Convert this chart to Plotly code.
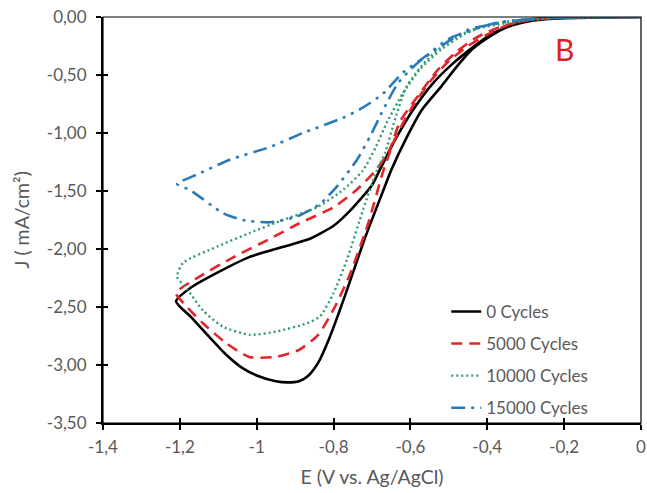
import plotly.graph_objects as go

# Cyclic voltammograms: forward (cathodic) branch from 0 V to -1.21 V,
# then the return branch back to 0 V.
e_0 = [0, -0.10, -0.20, -0.26, -0.31, -0.35, -0.39, -0.44, -0.48, -0.52, -0.57, -0.61,
       -0.65, -0.67, -0.69, -0.72, -0.77, -0.81, -0.84, -0.865, -0.89, -0.92, -0.95, -1.00,
       -1.04, -1.08, -1.12, -1.17, -1.21,
       -1.17, -1.10, -1.02, -0.93, -0.86, -0.80, -0.76, -0.73, -0.70, -0.68, -0.64, -0.593,
       -0.541, -0.489, -0.437, -0.385, -0.333, -0.28, -0.20, 0]
j_0 = [0, 0, -0.005, -0.01, -0.04, -0.09, -0.16, -0.28, -0.43, -0.60, -0.80, -1.04,
       -1.32, -1.49, -1.66, -1.92, -2.40, -2.76, -2.98, -3.09, -3.14, -3.15, -3.14, -3.09,
       -3.02, -2.91, -2.77, -2.59, -2.45,
       -2.33, -2.20, -2.07, -1.98, -1.91, -1.80, -1.68, -1.57, -1.45, -1.32, -1.06, -0.80,
       -0.57, -0.40, -0.26, -0.14, -0.07, -0.03, -0.01, 0]

e_5000 = [0, -0.20, -0.28, -0.34, -0.40, -0.45, -0.50, -0.55, -0.60, -0.64, -0.67, -0.71,
          -0.76, -0.80, -0.84, -0.89, -0.95, -1.02, -1.08, -1.14, -1.19, -1.21,
          -1.15, -1.06, -0.97, -0.89, -0.80, -0.74, -0.69, -0.655, -0.627, -0.58, -0.53,
          -0.48, -0.43, -0.37, -0.30, -0.20, 0]
j_5000 = [0, -0.005, -0.02, -0.06, -0.15, -0.25, -0.38, -0.56, -0.80, -1.05, -1.32, -1.78,
          -2.24, -2.52, -2.74, -2.87, -2.93, -2.93, -2.81, -2.64, -2.47, -2.38,
          -2.24, -2.07, -1.92, -1.78, -1.64, -1.49, -1.32, -1.15, -0.90, -0.68, -0.46,
          -0.30, -0.18, -0.09, -0.03, -0.005, 0]

e_10000 = [0, -0.20, -0.30, -0.38, -0.44, -0.50, -0.56, -0.61, -0.64, -0.666, -0.687, -0.723,
           -0.765, -0.80, -0.835, -0.869, -0.947, -1.017, -1.088, -1.14, -1.18, -1.207,
           -1.192, -1.103, -1.017, -0.932, -0.843, -0.775, -0.723, -0.69, -0.66, -0.62,
           -0.575, -0.52, -0.46, -0.40, -0.33, -0.25, 0]
j_10000 = [0, -0.005, -0.03, -0.07, -0.11, -0.21, -0.38, -0.60, -0.88, -1.17, -1.32, -1.66,
           -2.09, -2.38, -2.58, -2.64, -2.71, -2.74, -2.67, -2.53, -2.35, -2.24,
           -2.12, -1.98, -1.86, -1.75, -1.64, -1.49, -1.32, -1.12, -0.90, -0.66,
           -0.45, -0.28, -0.15, -0.07, -0.03, -0.01, 0]

e_15000 = [0, -0.20, -0.30, -0.38, -0.45, -0.52, -0.583, -0.632, -0.671, -0.705, -0.739,
           -0.791, -0.835, -0.895, -0.965, -1.036, -1.088, -1.174, -1.207,
           -1.15, -1.07, -0.965, -0.88, -0.776, -0.723, -0.671, -0.62, -0.557, -0.515,
           -0.489, -0.419, -0.375, -0.333, -0.20, 0]
j_15000 = [0, -0.005, -0.02, -0.06, -0.11, -0.25, -0.40, -0.57, -0.80, -1.03, -1.23,
           -1.46, -1.61, -1.72, -1.77, -1.75, -1.69, -1.49, -1.44,
           -1.35, -1.23, -1.12, -1.00, -0.87, -0.78, -0.66, -0.48, -0.33, -0.22,
           -0.17, -0.09, -0.05, -0.03, -0.005, 0]

series_names = ["0 Cycles", "5000 Cycles", "10000 Cycles", "15000 Cycles"]

x_tickvals = [-1.4, -1.2, -1.0, -0.8, -0.6, -0.4, -0.2, 0]
x_ticktext = ["-1,4", "-1,2", "-1", "-0,8", "-0,6", "-0,4", "-0,2", "0"]
y_tickvals = [0, -0.5, -1.0, -1.5, -2.0, -2.5, -3.0, -3.5]
y_ticktext = ["0,00", "-0,50", "-1,00", "-1,50", "-2,00", "-2,50", "-3,00", "-3,50"]

FONT = "Lato"
GREY = "#595959"

styles = [
    dict(color="#000000", dash="solid", width=2.6),
    dict(color="#e0262a", dash="11px,7px", width=2.6),
    dict(color="#2e9c6a", dash="2px,3px", width=2.4),
    dict(color="#2a7ab8", dash="14px,6px,3px,6px,3px,6px", width=2.6),
]

fig = go.Figure()
for name, xs, ys, st in zip(series_names,
                            [e_0, e_5000, e_10000, e_15000],
                            [j_0, j_5000, j_10000, j_15000],
                            styles):
    fig.add_trace(go.Scatter(
        x=xs, y=ys, mode="lines", name=name, legendgroup=name,
        line=dict(color=st["color"], dash=st["dash"], width=st["width"],
                  shape="spline", smoothing=0.6),
    ))

axis_common = dict(showgrid=False, zeroline=False, showline=True, linecolor="black",
                   linewidth=2, ticks="outside", ticklen=5, tickwidth=2, tickcolor="black",
                   automargin=False,
                   tickfont=dict(family=FONT, size=17, color=GREY))

fig.update_layout(
    width=647, height=493,
    margin=dict(l=103, r=6, t=17, b=70, autoexpand=False),
    plot_bgcolor="white", paper_bgcolor="white",
    font=dict(family=FONT, color=GREY),
    xaxis=dict(range=[-1.4, 0], tickvals=x_tickvals, ticktext=x_ticktext,
               ticklabelstandoff=3,
               title=dict(text="E (V vs. Ag/AgCl)", font=dict(family=FONT, size=19.5, color=GREY),
                          standoff=14),
               **axis_common),
    yaxis=dict(range=[-3.5, 0], tickvals=y_tickvals, ticktext=y_ticktext,
               ticklabelstandoff=6,
               title=dict(text="J ( mA/cm²)", font=dict(family=FONT, size=19.5, color=GREY),
                          standoff=12),
               **axis_common),
    # inner halves of the crossing tick marks
    xaxis2=dict(range=[-1.4, 0], overlaying="x", side="bottom", anchor="y",
                tickvals=x_tickvals, showticklabels=False, ticks="inside", ticklen=5,
                tickwidth=2, tickcolor="black", showgrid=False, zeroline=False, showline=False),
    yaxis2=dict(range=[-3.5, 0], overlaying="y", side="left", anchor="x",
                tickvals=y_tickvals, showticklabels=False, ticks="inside", ticklen=5,
                tickwidth=2, tickcolor="black", showgrid=False, zeroline=False, showline=False),
    legend=dict(x=0.638, y=0.318, xanchor="left", yanchor="top", bgcolor="rgba(0,0,0,0)",
                font=dict(family=FONT, size=17, color=GREY), traceorder="grouped",
                tracegroupgap=7),
    showlegend=True,
)

# invisible trace that activates the overlay axes
fig.add_trace(go.Scatter(x=[None], y=[None], xaxis="x2", yaxis="y2", showlegend=False,
                         hoverinfo="skip"))

# thin frame on the top and right
fig.add_shape(type="rect", xref="paper", yref="paper", x0=0, y0=0, x1=1, y1=1,
              line=dict(color="black", width=1.2), layer="above")

fig.add_annotation(x=-0.2, y=-0.28, text="B", showarrow=False,
                   font=dict(family=FONT, size=30, color="#e02020"))

fig.write_html("out.html")
